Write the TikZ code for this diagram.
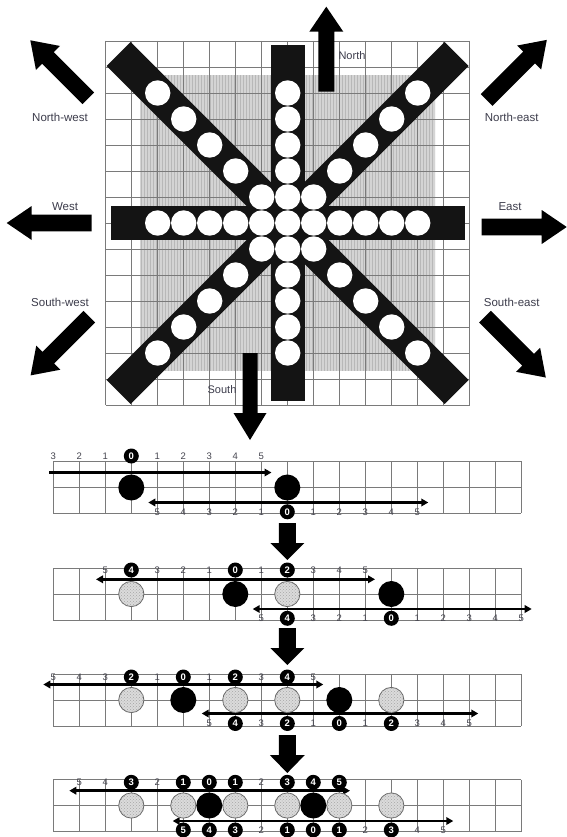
\documentclass[tikz,border=0pt]{standalone}
\usepackage{fontspec}
\setmainfont{Liberation Sans}
\usetikzlibrary{arrows.meta,patterns}
\definecolor{labelcol}{RGB}{60,60,75}
\definecolor{numcol}{RGB}{70,70,80}
\newcommand{\blockarr}[6]{% #1 tail, #2 angle, #3 length, #4 head length, #5 shaft half width, #6 head half width
  \begin{scope}[shift={(#1)}, rotate=#2]
    \fill[arrfill] (0,-#5) -- ({#3-#4},-#5) -- ({#3-#4},-#6) -- (#3,0) -- ({#3-#4},#6) -- ({#3-#4},#5) -- (0,#5) -- cycle;
  \end{scope}}
\newcommand{\numrow}[6]{% #1 y, #2 centre col, #3 first col, #4 last col, #5 circled cols, #6 name prefix
  \foreach \c in {#3,...,#4}{\pgfmathtruncatemacro\v{abs(\c-#2)}\node[numlbl] (#6n\c) at ({53.3+26*\c},#1) {\v};}
  \foreach \c in {#5}{\pgfmathtruncatemacro\v{abs(\c-#2)}\node[numcirc] (#6c\c) at ({53.3+26*\c},#1) {\v};}}
\newcommand{\blackdiscs}[2]{\foreach \c in {#2}{\fill[black] ({53.3+26*\c},#1) circle[radius=13pt];}}
\newcommand{\greydiscs}[2]{\foreach \c in {#2}{\filldraw[greydisc] ({53.3+26*\c},#1) circle[radius=12.6pt];}}
\begin{document}
\begin{tikzpicture}[x=1pt,y=-1pt,
  gridln/.style={draw=black!52, line width=0.8pt},
  band/.style={fill=black!92},
  arrfill/.style={fill=black},
  dirlabel/.style={font=\fontsize{11.5}{13}\selectfont, text=labelcol, inner sep=0pt},
  numlbl/.style={font=\fontsize{9.5}{10}\selectfont, text=numcol, inner sep=0pt},
  numcirc/.style={circle, fill=black, text=white, font=\bfseries\fontsize{9.5}{10}\selectfont, inner sep=0pt, minimum size=15pt},
  greydisc/.style={fill=black!14, draw=black!60, line width=0.8pt, postaction={pattern=crosshatch dots, pattern color=black!35}},
  parrow/.style={line width=2.6pt, {Triangle[length=7pt,width=7.5pt]}-{Triangle[length=7pt,width=7.5pt]}},
  parrowR/.style={line width=2.6pt, -{Triangle[length=7pt,width=7.5pt]}}]
\fill[white] (0,0) rectangle (566,837);
\useasboundingbox (0,0) rectangle (566,837);
% ---------------- top compass grid ----------------
\def\cx{287.7}\def\cy{223}
\fill[black!17] (140.2,75.5) rectangle (435.2,370.5);
\fill[pattern=vertical lines, pattern color=black!28] (140.2,75.5) rectangle (435.2,370.5);
\foreach \i in {0,...,14}{
  \draw[gridln] ({105.7+26*\i},41) -- ({105.7+26*\i},405);
  \draw[gridln] (105.7,{41+26*\i}) -- (469.7,{41+26*\i});}
\begin{scope}[shift={(\cx,\cy)}]
  \fill[band] (-177,-17) rectangle (177,17);
  \fill[band] (-17,-178) rectangle (17,178);
  \fill[band, rotate=45] (-239,-17) rectangle (239,17);
  \fill[band, rotate=-45] (-239,-17) rectangle (239,17);
\end{scope}
\fill[white] (\cx,\cy) circle[radius=12.7pt];
\foreach \dx/\dy in {1/0,-1/0,0/1,0/-1,1/1,1/-1,-1/1,-1/-1}
  \foreach \k in {1,...,5}
    \fill[white] ({\cx+26*\k*\dx},{\cy+26*\k*\dy}) circle[radius=12.7pt];
% direction arrows
\coordinate (tN) at (326.3,91.7);
\coordinate (tS) at (250,353);
\coordinate (tNW) at (88.3,98.3);
\coordinate (tW) at (91.7,223);
\coordinate (tSW) at (89.3,316.7);
\coordinate (tNE) at (486.7,100);
\coordinate (tE) at (481.7,227);
\coordinate (tSE) at (485,316.7);
\blockarr{tN}{90}{85}{25}{8}{17}
\blockarr{tS}{-90}{87}{27}{7.5}{16.5}
\blockarr{tNW}{135}{82}{25}{8.3}{17}
\blockarr{tW}{180}{85}{25}{8.3}{17}
\blockarr{tSW}{225}{83}{25}{8.3}{17}
\blockarr{tNE}{45}{85}{25}{8.3}{17}
\blockarr{tE}{0}{85}{25}{8.3}{17}
\blockarr{tSE}{-45}{86}{25}{8.3}{17}
\node[dirlabel, font=\fontsize{11}{13}\selectfont] (lN) at (352,56) {North};
\node[dirlabel, font=\fontsize{11}{13}\selectfont] (lS) at (222,390) {South};
\node[dirlabel] (lNW) at (60,117.3) {North-west};
\node[dirlabel] (lW) at (65,206.7) {West};
\node[dirlabel] (lSW) at (60,302.7) {South-west};
\node[dirlabel] (lNE) at (511.7,117.3) {North-east};
\node[dirlabel] (lE) at (510,206.7) {East};
\node[dirlabel] (lSE) at (511.7,302.7) {South-east};
% ---------------- strip panels ----------------
\foreach \t in {461,568,674,779.5}{
  \foreach \i in {0,...,18} \draw[gridln] ({53.3+26*\i},\t) -- ({53.3+26*\i},{\t+52});
  \foreach \j in {0,1,2} \draw[gridln] (53.3,{\t+26*\j}) -- (521.3,{\t+26*\j});}
% connecting block arrows
\coordinate (a1) at (287.3,523);
\coordinate (a2) at (287.3,628);
\coordinate (a3) at (287.3,735);
\blockarr{a1}{-90}{37}{17}{8.5}{17}
\blockarr{a2}{-90}{37}{17}{8.5}{17}
\blockarr{a3}{-90}{38}{18}{8.5}{17.5}
% panel 1
\coordinate (p1ua) at (49,472.5);   \coordinate (p1ub) at (271.5,472.5);
\coordinate (p1la) at (148.3,502.5); \coordinate (p1lb) at (428.3,502.5);
\draw[parrowR] (p1ua) -- (p1ub);
\draw[parrow] (p1la) -- (p1lb);
\blackdiscs{487.5}{3,9}
\numrow{456}{3}{0}{8}{3}{pAu}
\numrow{511.8}{9}{4}{14}{9}{pAl}
% panel 2
\coordinate (p2ua) at (96,579.3);   \coordinate (p2ub) at (375,579.3);
\coordinate (p2la) at (252.7,609);  \coordinate (p2lb) at (531.7,609);
\draw[parrow] (p2ua) -- (p2ub);
\draw[parrow] (p2la) -- (p2lb);
\greydiscs{594}{3,9}
\blackdiscs{594}{7,13}
\numrow{570}{7}{2}{12}{3,7,9}{pBu}
\numrow{618.3}{13}{8}{18}{9,13}{pBl}
% panel 3
\coordinate (p3ua) at (43.3,684.5); \coordinate (p3ub) at (323.3,684.5);
\coordinate (p3la) at (201.7,713.5); \coordinate (p3lb) at (478.3,713.5);
\draw[parrow] (p3ua) -- (p3ub);
\draw[parrow] (p3la) -- (p3lb);
\greydiscs{700}{3,7,9,13}
\blackdiscs{700}{5,11}
\numrow{677}{5}{0}{10}{3,5,7,9}{pCu}
\numrow{723.5}{11}{6}{16}{7,9,11,13}{pCl}
% panel 4
\coordinate (p4ua) at (69.3,790.7); \coordinate (p4ub) at (350,790.7);
\coordinate (p4la) at (172.7,821);  \coordinate (p4lb) at (453.3,821);
\draw[parrow] (p4ua) -- (p4ub);
\draw[parrow] (p4la) -- (p4lb);
\greydiscs{805.5}{3,5,7,9,11,13}
\blackdiscs{805.5}{6,10}
\numrow{782.3}{6}{1}{11}{3,5,6,7,9,10,11}{pDu}
\numrow{830}{10}{5}{15}{5,6,7,9,10,11,13}{pDl}
\end{tikzpicture}
\end{document}
